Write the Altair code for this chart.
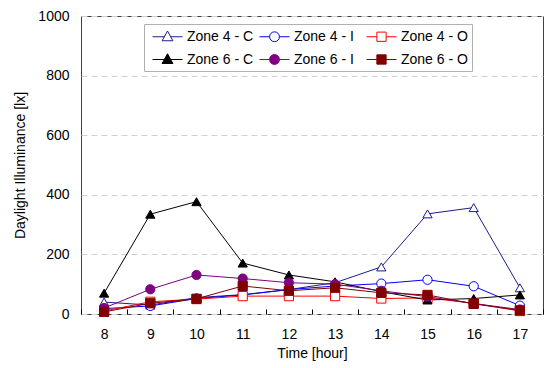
import altair as alt
import pandas as pd

hours = [8, 9, 10, 11, 12, 13, 14, 15, 16, 17]
series_names = ["Zone 4 - C", "Zone 4 - I", "Zone 4 - O", "Zone 6 - C", "Zone 6 - I", "Zone 6 - O"]
z4c = [40, 30, 55, 65, 82, 105, 158, 336, 357, 88]
z4i = [18, 27, 52, 64, 82, 94, 102, 115, 93, 28]
z4o = [10, 41, 50, 60, 60, 60, 52, 54, 36, 10]
z6c = [70, 335, 377, 171, 131, 108, 75, 47, 52, 64]
z6i = [20, 83, 131, 119, 105, 100, 78, 58, 35, 15]
z6o = [7, 36, 51, 94, 78, 88, 71, 64, 34, 12]
y_ticks = [0, 200, 400, 600, 800, 1000]

stroke_colors = ["#1c1c8a", "#0000ff", "#ff0000", "#000000", "#800080", "#800000"]
fill_colors = ["#ffffff", "#ffffff", "#ffffff", "#000000", "#800080", "#800000"]
plot_shapes = ["triangle-up", "circle", "square", "triangle-up", "circle", "square"]

# legend glyphs: line segment with marker, in symbol units (1 unit = 8 px at size 256)
tri = "M-0.5,0H0.98M1.77,0H3.25M1.375,-0.72L2.05,0.5L0.7,0.5Z"
cir = "M-0.5,0H0.76M1.99,0H3.25M1.99,0A0.615,0.615 0 1,1 0.76,0A0.615,0.615 0 1,1 1.99,0Z"
sqr = "M-0.5,0H0.795M1.955,0H3.25M0.795,-0.58H1.955V0.58H0.795Z"
legend_shapes = [tri, cir, sqr, tri, cir, sqr]

rows = []
for name, vals in zip(series_names, [z4c, z4i, z4o, z6c, z6i, z6o]):
    for h, v in zip(hours, vals):
        rows.append({"hour": h, "value": v, "series": name})
df = pd.DataFrame(rows)

FONT = "Liberation Sans"

x_enc = alt.X("hour:O", sort=hours,
              scale=alt.Scale(type="band", paddingInner=0, paddingOuter=0),
              axis=alt.Axis(title="Time [hour]", labelAngle=0, tickBand="extent",
                            offset=-5, domain=False, tickSize=5, tickColor="#000000",
                            labelPadding=13, titlePadding=5, grid=False,
                            labelFontSize=14, titleFontSize=14, labelFont=FONT,
                            titleFont=FONT, titleFontWeight="normal",
                            labelColor="#000000", titleColor="#000000"))
y_enc = alt.Y("value:Q",
              scale=alt.Scale(domain=[0, 1000], nice=False),
              axis=alt.Axis(title="Daylight  Illuminance [lx]", values=y_ticks, format="d",
                            domain=False, ticks=False, labelPadding=12, titlePadding=10,
                            grid=True, gridColor="#d0d0d0", gridDash=[6, 4],
                            labelFontSize=14, titleFontSize=14, labelFont=FONT,
                            titleFont=FONT, titleFontWeight="normal",
                            labelColor="#000000", titleColor="#000000"))

base = alt.Chart(df)

lines = base.mark_line(strokeWidth=1).encode(
    x=x_enc, y=y_enc,
    stroke=alt.Stroke("series:N", scale=alt.Scale(domain=series_names, range=stroke_colors), legend=None),
    detail="series:N",
)

points = base.mark_point(size=85, strokeWidth=1, opacity=1).encode(
    x=x_enc, y=y_enc,
    stroke=alt.Stroke("series:N", scale=alt.Scale(domain=series_names, range=stroke_colors), legend=None),
    fill=alt.Fill("series:N", scale=alt.Scale(domain=series_names, range=fill_colors), legend=None),
    shape=alt.Shape("series:N", scale=alt.Scale(domain=series_names, range=plot_shapes), legend=None),
)

legend_cfg = dict(title=None, orient="none", legendX=63, legendY=8, columns=3,
                  direction="horizontal", gridAlign="all",
                  padding=4, strokeColor="#b0b0b0", fillColor="#ffffff",
                  labelFontSize=14, labelFont=FONT, labelColor="#000000",
                  symbolSize=256, symbolStrokeWidth=1, columnPadding=1,
                  rowPadding=7, labelOffset=22)

legend_layer = base.mark_point(strokeWidth=1, opacity=1).encode(
    x=x_enc, y=y_enc,
    stroke=alt.Stroke("series:N", scale=alt.Scale(domain=series_names, range=stroke_colors),
                      legend=alt.Legend(**legend_cfg)),
    fill=alt.Fill("series:N", scale=alt.Scale(domain=series_names, range=fill_colors),
                  legend=alt.Legend(**legend_cfg)),
    shape=alt.Shape("series:N", scale=alt.Scale(domain=series_names, range=legend_shapes),
                    legend=alt.Legend(**legend_cfg)),
).transform_filter("false")

chart = alt.layer(lines, points, legend_layer).resolve_scale(
    stroke="independent", fill="independent", shape="independent"
).properties(
    width=462, height=298,
    autosize=alt.AutoSizeParams(type="none"),
    padding={"left": 81, "top": 16, "right": 2, "bottom": 54},
    background="#ffffff",
).configure_view(stroke="#404040", strokeWidth=1)

chart.save("out.html", embed_options={"renderer": "svg", "actions": False})
